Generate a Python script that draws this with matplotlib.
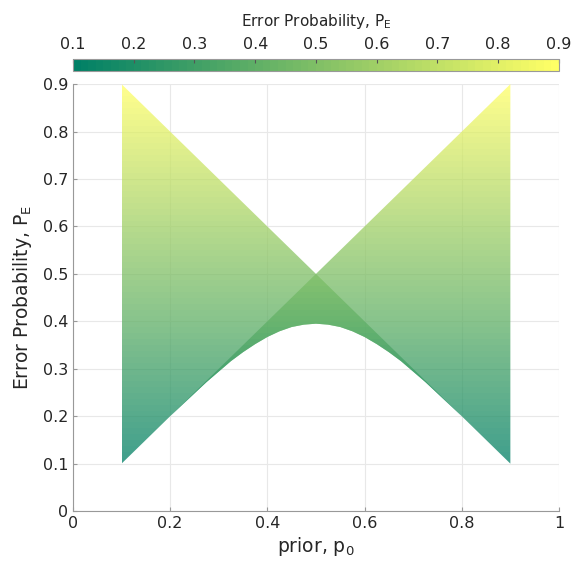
import matplotlib
matplotlib.use("Agg")
import matplotlib.pyplot as plt
import numpy as np
from matplotlib.patches import Polygon
from matplotlib.colors import Normalize
from matplotlib.cm import ScalarMappable

# Curva inferior (error mínimo)
prior_p0 = [0.10, 0.15, 0.20, 0.225, 0.25, 0.275, 0.30, 0.325, 0.35, 0.375, 0.40,
            0.425, 0.45, 0.475, 0.50, 0.525, 0.55, 0.575, 0.60, 0.625, 0.65,
            0.675, 0.70, 0.725, 0.75, 0.775, 0.80, 0.85, 0.90]
pe_min = [0.100, 0.150, 0.200, 0.224, 0.248, 0.272, 0.294, 0.316, 0.335, 0.352, 0.367,
          0.379, 0.388, 0.393, 0.395, 0.393, 0.388, 0.379, 0.367, 0.352, 0.335,
          0.316, 0.294, 0.272, 0.248, 0.224, 0.200, 0.150, 0.100]

# Bordes superiores (rectas) de cada región
borde_izq_p0 = [0.9, 0.1]
borde_izq_pe = [0.1, 0.9]
borde_der_p0 = [0.9, 0.1]
borde_der_pe = [0.9, 0.1]

x_ticks = [0, 0.2, 0.4, 0.6, 0.8, 1]
y_ticks = [0, 0.1, 0.2, 0.3, 0.4, 0.5, 0.6, 0.7, 0.8, 0.9]
cb_ticks = [0.1, 0.2, 0.3, 0.4, 0.5, 0.6, 0.7, 0.8, 0.9]

color_texto = '#262626'
plt.rcParams['font.family'] = ['DejaVu Sans']
plt.rcParams['mathtext.default'] = 'regular'

fig = plt.figure(figsize=(5.79, 5.61), dpi=100)
ax = fig.add_axes([0.126, 0.089, 0.8394, 0.761])

cmap = plt.get_cmap('summer', 64)
norm = Normalize(vmin=0.1, vmax=0.9)
gradiente = np.linspace(0.1, 0.9, 512).reshape(-1, 1)

curva = list(zip(prior_p0, pe_min))
regiones = [
    curva + list(zip(borde_izq_p0, borde_izq_pe)),
    curva + list(zip(borde_der_p0, borde_der_pe)),
]
for vertices in regiones:
    poly = Polygon(vertices, closed=True, facecolor='none', edgecolor='none')
    ax.add_patch(poly)
    im = ax.imshow(gradiente, extent=[0.1, 0.9, 0.1, 0.9], origin='lower',
                   cmap=cmap, norm=norm, aspect='auto', alpha=0.75,
                   interpolation='nearest', zorder=2)
    im.set_clip_path(poly)

ax.set_xlim(0, 1)
ax.set_ylim(0, 0.9)
ax.set_xticks(x_ticks)
ax.set_xticklabels(['0', '0.2', '0.4', '0.6', '0.8', '1'])
ax.set_yticks(y_ticks)
ax.set_yticklabels(['0', '0.1', '0.2', '0.3', '0.4', '0.5', '0.6', '0.7', '0.8', '0.9'])
ax.grid(True, color='#e8e8e8', linewidth=0.8)
ax.set_axisbelow(True)
for lado in ['top', 'right']:
    ax.spines[lado].set_visible(False)
for lado in ['left', 'bottom']:
    ax.spines[lado].set_color('#999999')
    ax.spines[lado].set_linewidth(0.8)
ax.tick_params(direction='in', length=3, color='#999999', labelcolor=color_texto,
               labelsize=11.5)
ax.set_xlabel('prior, p$_{0}$', fontsize=13.5, color=color_texto, labelpad=3)
ax.set_ylabel('Error Probability, P$_{E}$', fontsize=13.5, color=color_texto, labelpad=6)

# Barra de color arriba
cax = fig.add_axes([0.126, 0.8734, 0.8394, 0.0214])
cb = fig.colorbar(ScalarMappable(norm=norm, cmap=cmap), cax=cax, orientation='horizontal')
cb.set_ticks(cb_ticks)
cb.set_ticklabels(['0.1', '0.2', '0.3', '0.4', '0.5', '0.6', '0.7', '0.8', '0.9'])
cax.xaxis.set_ticks_position('top')
cax.xaxis.set_label_position('top')
cax.tick_params(direction='in', length=3, color='#555555', labelcolor=color_texto,
                labelsize=11.5, pad=5)
cb.outline.set_edgecolor('#999999')
cb.outline.set_linewidth(0.8)
cb.set_label('Error Probability, P$_{E}$', fontsize=11, color=color_texto, labelpad=8)

fig.savefig('out.png', dpi=100)
plt.close(fig)
